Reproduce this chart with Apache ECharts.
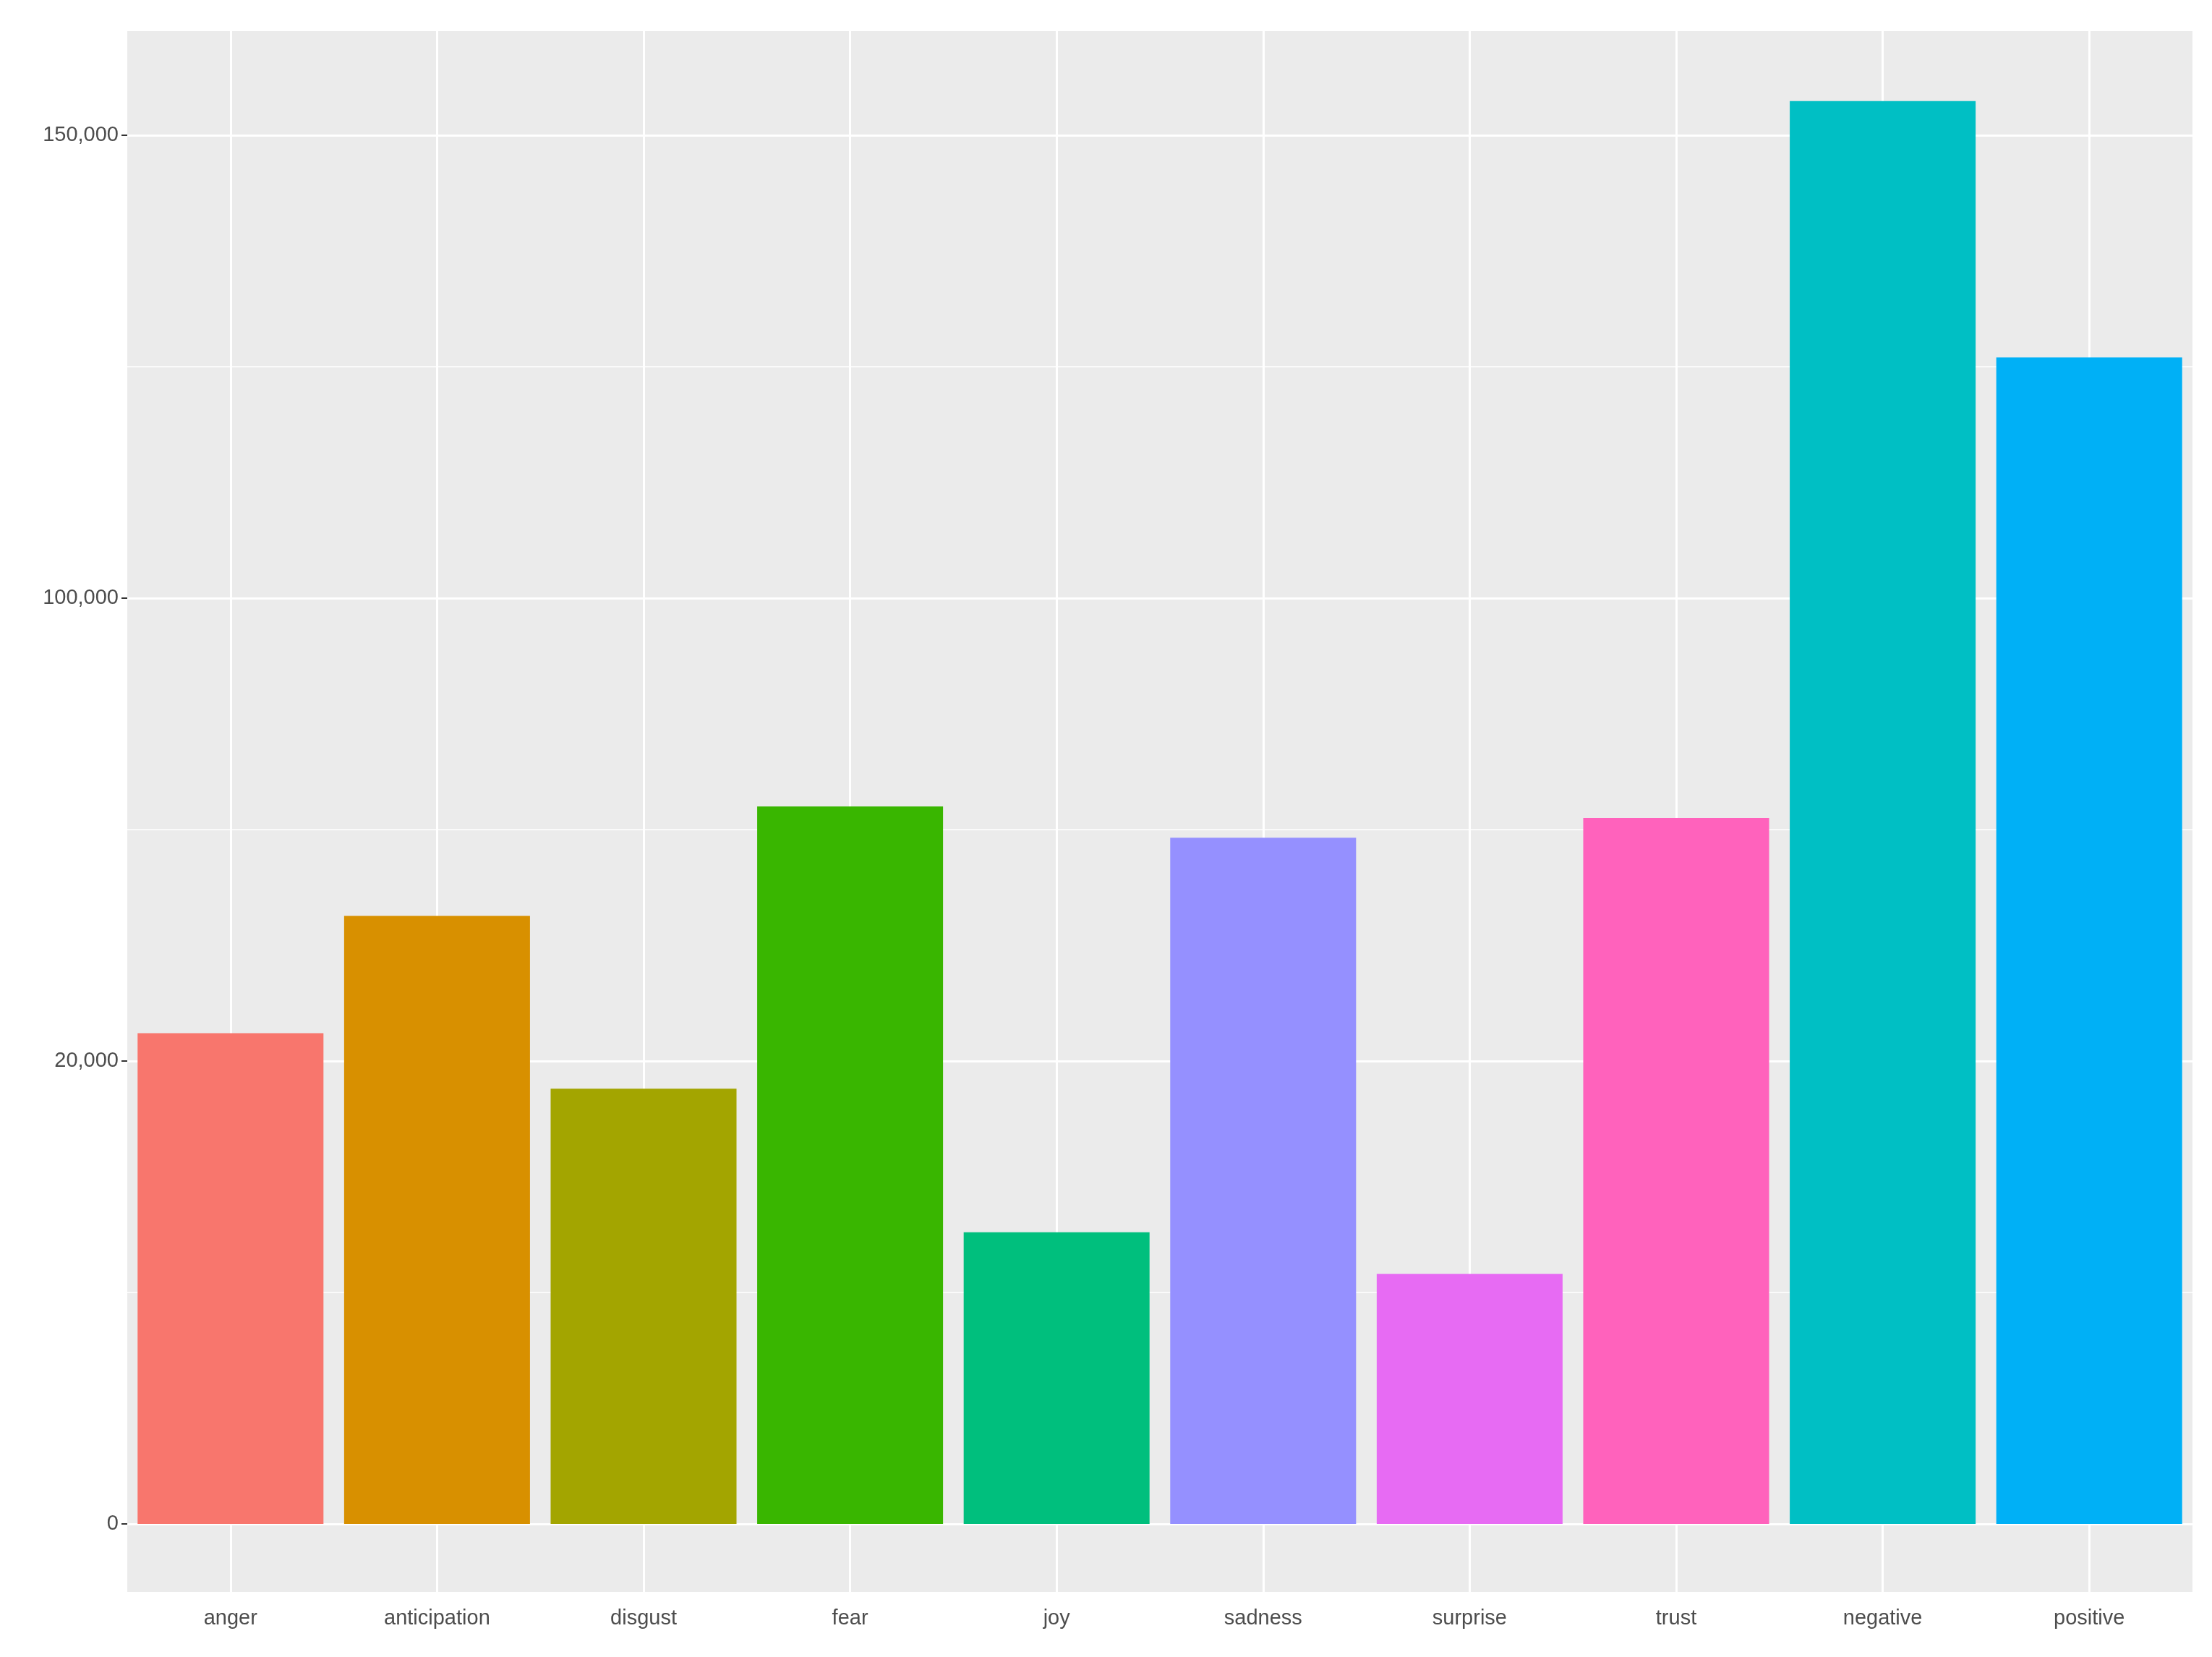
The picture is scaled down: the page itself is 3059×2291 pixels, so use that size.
<!DOCTYPE html>
<html>
<head>
<meta charset="utf-8">
<script src="https://cdn.jsdelivr.net/npm/echarts@6/dist/echarts.min.js"></script>
<style>html,body{margin:0;padding:0;background:#fff}#chart{width:3059px;height:2291px}</style>
</head>
<body>
<div id="chart"></div>
<script>
// categories and counts
var categories = ['anger','anticipation','disgust','fear','joy','sadness','surprise','trust','negative','positive'];
var counts = [24800, 45100, 18800, 64000, 12600, 58600, 10800, 62000, 153700, 126000];
var colors = ['#F8766D','#D89000','#A3A500','#39B600','#00BF7D','#9590FF','#E76BF3','#FF62BC','#00BFC4','#00B0F6'];
// the y axis of the original puts these ticks at equal spacing
var tickValues = [0, 20000, 100000, 150000];

// piecewise mapping from a count to its position on the axis (tick index units)
function toAxis(v){
	for (var i = 1; i < tickValues.length; i++) {
		if (v <= tickValues[i] || i == tickValues.length - 1) {
			return (i - 1) + (v - tickValues[i-1]) / (tickValues[i] - tickValues[i-1]);
		}
	}
}

var myChart = echarts.init(document.getElementById('chart'));
var barData = [];
for (var i = 0; i < counts.length; i++) {
	barData.push({value: toAxis(counts[i]), itemStyle: {color: colors[i]}});
}
var gridLines = [];
for (var k = 0; k < tickValues.length; k++) gridLines.push({yAxis: k, lineStyle: {color: '#fff', width: 3, type: 'solid'}});
for (var k = 0; k < tickValues.length - 1; k++) gridLines.push({yAxis: k + 0.5, lineStyle: {color: '#fff', width: 1.5, type: 'solid'}});
for (var c = 0; c < categories.length; c++) gridLines.push({xAxis: categories[c], lineStyle: {color: '#fff', width: 3, type: 'solid'}});

myChart.setOption({
	animation: false,
	grid: {left: 176, right: 27, top: 43, bottom: 90, backgroundColor: '#EBEBEB', show: true, borderWidth: 0},
	xAxis: {
		type: 'category',
		data: categories,
		axisLine: {show: false},
		axisTick: {show: true, alignWithLabel: true, length: 8, lineStyle: {color: '#333', width: 2}},
		axisLabel: {fontSize: 29, color: '#4d4d4d', margin: 22, fontFamily: 'Liberation Sans'},
		splitLine: {show: false}
	},
	yAxis: {
		type: 'value',
		min: -0.147,
		max: 3.225,
		axisLine: {show: false},
		splitLine: {show: false},
		axisTick: {show: true, customValues: [0, 1, 2, 3], length: 8, lineStyle: {color: '#333', width: 2}},
		axisLabel: {
			customValues: [0, 1, 2, 3], fontSize: 29, color: '#4d4d4d', margin: 12, fontFamily: 'Liberation Sans',
			formatter: function(v){ return tickValues[Math.round(v)].toLocaleString('en-US'); }
		}
	},
	series: [{
		type: 'bar',
		data: barData,
		barCategoryGap: '10%',
		z: 3,
		markLine: {silent: true, symbol: 'none', label: {show: false}, z: 1, data: gridLines}
	}]
});
</script>
</body>
</html>
